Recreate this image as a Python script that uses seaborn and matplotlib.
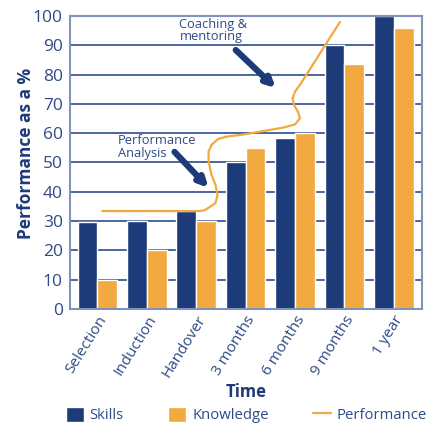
import matplotlib.pyplot as plt
import numpy as np
import pandas as pd
import seaborn as sns
from matplotlib.patches import Patch
from matplotlib.lines import Line2D

sns.set_theme(style="white")
plt.rcParams['font.family'] = ['Open Sans', 'DejaVu Sans']

navy = "#1C3B78"
orange = "#F1A940"
txt = "#2E4A87"
gridc = "#3C5A95"

# Dati
stages = ["Selection", "Induction", "Handover", "3 months", "6 months", "9 months", "1 year"]
skills = [29.5, 30, 33.5, 50, 58.5, 90, 100]
knowledge = [10, 20, 30, 55, 60, 83.5, 96]

# Curva "Performance" disegnata a mano (x = posizione categoria)
perf_x = [0.10, 1.05, 2.07, 2.16, 2.24, 2.39, 2.43, 2.39, 2.31, 2.25, 2.25, 2.31, 2.44, 2.61,
          2.98, 3.49, 3.76, 4.00, 4.10, 4.06, 3.98, 3.95, 4.00, 4.10, 4.91]
perf_y = [33.4, 33.4, 33.4, 33.6, 34.4, 36.1, 38.9, 42.3, 45.7, 50.3, 53.7, 56.0, 58.0, 58.8,
          59.6, 61.1, 61.9, 63.0, 65.1, 67.3, 69.6, 71.9, 74.2, 76.5, 98.0]

df = pd.DataFrame({
    "Time": stages * 2,
    "Value": skills + knowledge,
    "Series": ["Skills"] * len(stages) + ["Knowledge"] * len(stages),
})

fig = plt.figure(figsize=(4.31, 4.23), dpi=100)
ax = fig.add_axes([0.162, 0.27, 0.817, 0.692])

ax.set_axisbelow(True)
for v in range(10, 100, 10):
    ax.axhline(v, color=gridc, lw=1.3, zorder=0)

sns.barplot(data=df, x="Time", y="Value", hue="Series", order=stages,
            palette={"Skills": navy, "Knowledge": orange}, saturation=1,
            edgecolor="white", linewidth=1, ax=ax, legend=False, zorder=2)

sns.lineplot(x=perf_x, y=perf_y, sort=False, estimator=None, color=orange, lw=1.6, ax=ax, zorder=3)

ax.set_xlim(-0.56, 6.57)
ax.set_ylim(0, 100)
ax.set_yticks(range(0, 101, 10))
ax.tick_params(axis="y", labelsize=12.5, colors=txt, length=0, pad=5)
ax.tick_params(axis="x", labelsize=11, colors=txt, length=0, pad=3)
plt.setp(ax.get_xticklabels(), rotation=58, ha="right", rotation_mode="anchor")

for s in ax.spines.values():
    s.set_color("#7F93BD")
    s.set_linewidth(1.5)

ax.set_xlabel("Time", fontsize=12, fontweight="bold", color=navy, labelpad=2)
ax.set_ylabel("Performance as a %", fontsize=12.5, fontweight="bold", color=navy)
ax.yaxis.set_label_coords(-0.1, 0.53)

# Annotazioni con frecce
ax.text(1.66, 99.5, "Coaching &\nmentoring", fontsize=9.3, color=txt, va="top", ha="left", linespacing=0.95)
ax.annotate("", xy=(3.61, 75.4), xytext=(2.80, 88.4),
            arrowprops=dict(arrowstyle="-|>", lw=4.5, color=navy, mutation_scale=13, shrinkA=0, shrinkB=0))
ax.text(0.41, 59.6, "Performance\nAnalysis", fontsize=9.3, color=txt, va="top", ha="left", linespacing=0.95)
ax.annotate("", xy=(2.25, 41.3), xytext=(1.56, 53.6),
            arrowprops=dict(arrowstyle="-|>", lw=4.5, color=navy, mutation_scale=13, shrinkA=0, shrinkB=0))

# Legenda
handles = [Patch(facecolor=navy, edgecolor="white", label="Skills"),
           Patch(facecolor=orange, edgecolor="white", label="Knowledge"),
           Line2D([0], [0], color=orange, lw=1.6, label="Performance")]
fig.legend(handles=handles, loc="center", bbox_to_anchor=(0.572, 0.019), ncol=3,
           frameon=False, fontsize=10.7, handlelength=1.2, handleheight=1.2,
           handletextpad=0.4, columnspacing=3.0, labelcolor=txt, borderpad=0)

plt.savefig("out.png", dpi=100)
